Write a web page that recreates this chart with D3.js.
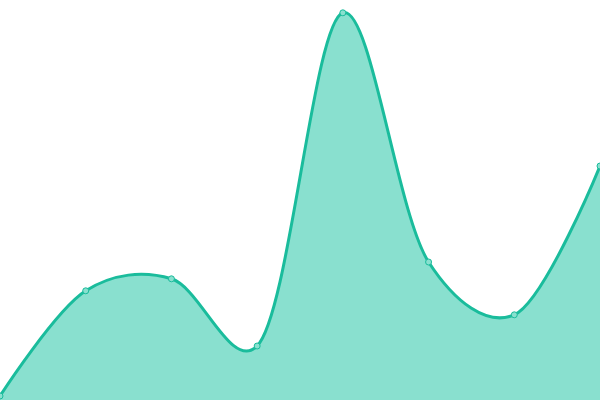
<!DOCTYPE html>
<html>
<head>
<meta charset="utf-8">
<script src="https://cdn.jsdelivr.net/npm/d3@7"></script>
<style>
  html, body { margin: 0; padding: 0; background: #fff; }
  svg { display: block; }
</style>
</head>
<body>
<div id="chart"></div>
<script>
// Series values
const xIndex = [0, 1, 2, 3, 4, 5, 6, 7]
const values = [1, 27.3, 30.3, 13.5, 96.8, 34.5, 21.3, 58.5]

const W = 600, H = 400

const svg = d3.select('#chart').append('svg')
  .attr('width', W).attr('height', H)

const x = d3.scaleLinear().domain([0, xIndex.length - 1]).range([0, W])
const y = d3.scaleLinear().domain([0, 100]).range([H, 0])

const data = xIndex.map((d, i) => ({ x: d, y: values[i] }))

const curve = d3.curveCatmullRom.alpha(0.2)

const area = d3.area()
  .x(d => x(d.x)).y0(H).y1(d => y(d.y))
  .curve(curve)

const line = d3.line()
  .x(d => x(d.x)).y(d => y(d.y))
  .curve(curve)

svg.append('path').datum(data)
  .attr('d', area)
  .attr('fill', '#89e0cf')

svg.append('path').datum(data)
  .attr('d', line)
  .attr('fill', 'none')
  .attr('stroke', '#1abc9c')
  .attr('stroke-width', 3)

svg.selectAll('circle').data(data).enter().append('circle')
  .attr('cx', d => x(d.x)).attr('cy', d => y(d.y))
  .attr('r', 3)
  .attr('fill', '#89e0cf')
  .attr('stroke', '#1abc9c')
  .attr('stroke-width', 1)
</script>
</body>
</html>
